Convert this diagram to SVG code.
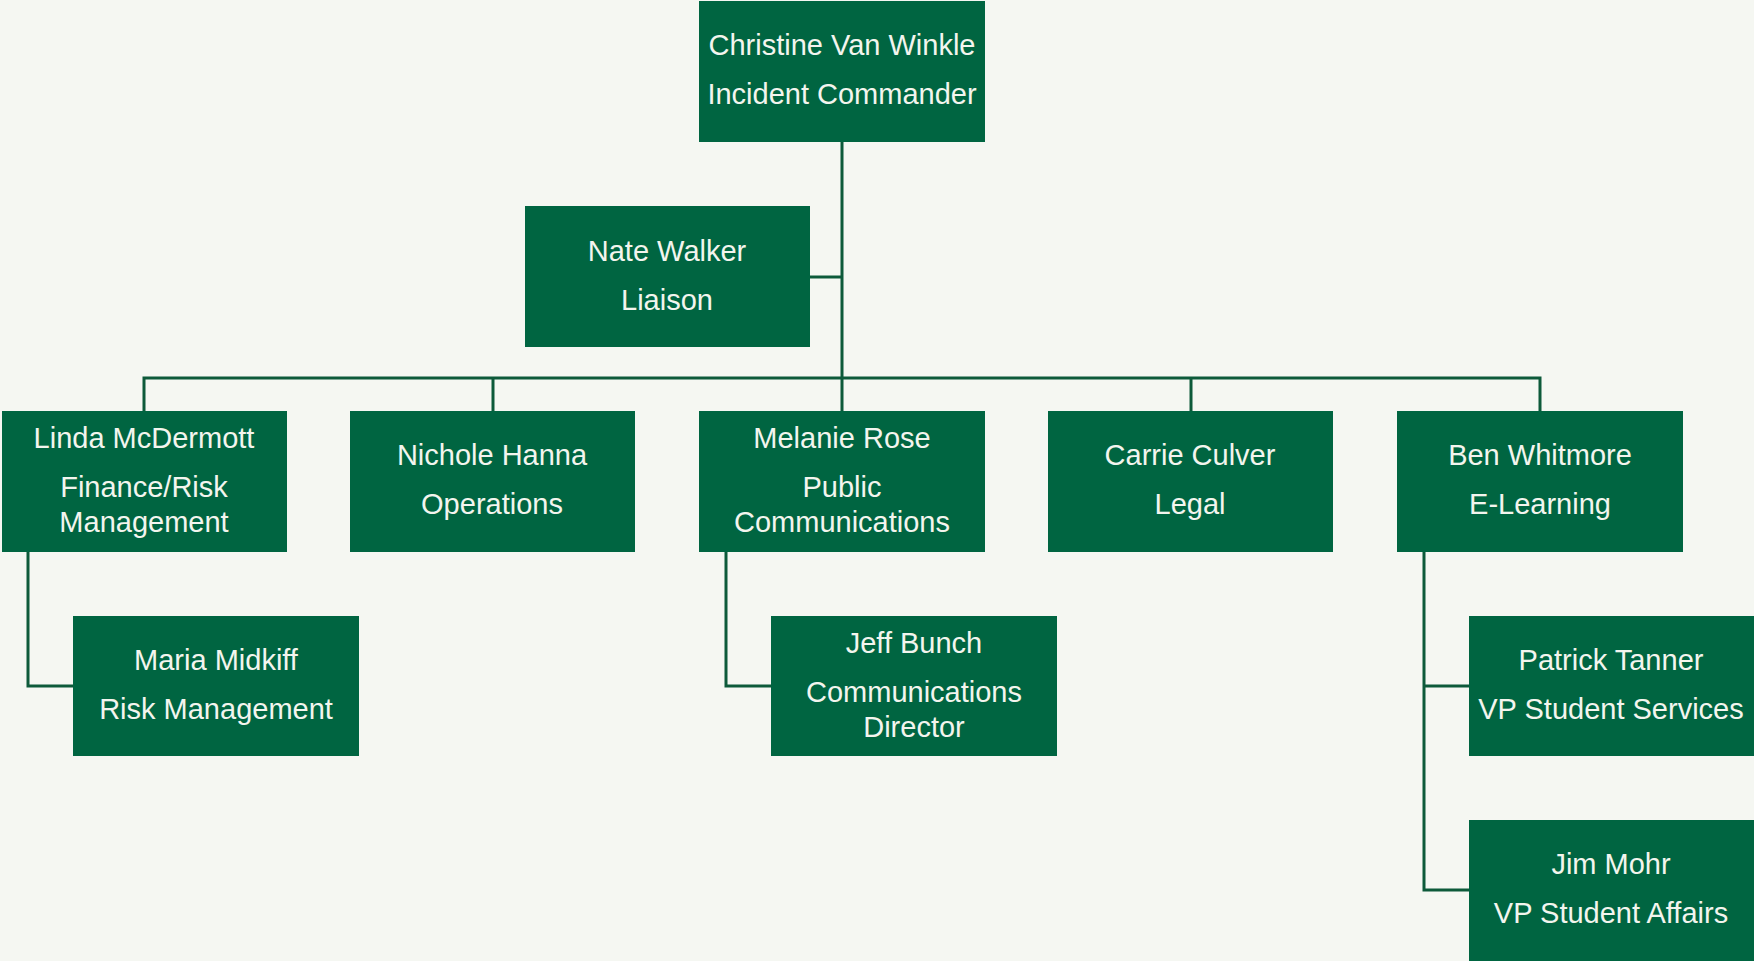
<svg xmlns="http://www.w3.org/2000/svg" width="1754" height="961" viewBox="0 0 1754 961">
<style>
.bg{fill:#F5F7F2}
.box{fill:#006541}
.t{font-family:"Liberation Sans",Arial,sans-serif;font-size:29px;fill:#F3F5EE;text-anchor:middle}
.c{fill:none;stroke:#0D5A3A;stroke-width:3}
</style>
<rect class="bg" x="0" y="0" width="1754" height="961"/>
<g id="connectors">
<path class="c" d="M842 142V411"/>
<path class="c" d="M810 277H842"/>
<path class="c" d="M144 411V378H1540V411"/>
<path class="c" d="M493 378V411"/>
<path class="c" d="M1191 378V411"/>
<path class="c" d="M28 552V686H73"/>
<path class="c" d="M726 552V686H771"/>
<path class="c" d="M1424 552V890H1469"/>
<path class="c" d="M1424 686H1469"/>
</g>
<g id="christine">
<rect class="box" x="699" y="1" width="286" height="141"/>
<text class="t" x="842" y="55">Christine Van Winkle</text>
<text class="t" x="842" y="104">Incident Commander</text>
</g>
<g id="nate">
<rect class="box" x="525" y="206" width="285" height="141"/>
<text class="t" x="667" y="261">Nate Walker</text>
<text class="t" x="667" y="310">Liaison</text>
</g>
<g id="linda">
<rect class="box" x="2" y="411" width="285" height="141"/>
<text class="t" x="144" y="448">Linda McDermott</text>
<text class="t" x="144" y="497">Finance/Risk</text>
<text class="t" x="144" y="532">Management</text>
</g>
<g id="nichole">
<rect class="box" x="350" y="411" width="285" height="141"/>
<text class="t" x="492" y="465">Nichole Hanna</text>
<text class="t" x="492" y="514">Operations</text>
</g>
<g id="melanie">
<rect class="box" x="699" y="411" width="286" height="141"/>
<text class="t" x="842" y="448">Melanie Rose</text>
<text class="t" x="842" y="497">Public</text>
<text class="t" x="842" y="532">Communications</text>
</g>
<g id="carrie">
<rect class="box" x="1048" y="411" width="285" height="141"/>
<text class="t" x="1190" y="465">Carrie Culver</text>
<text class="t" x="1190" y="514">Legal</text>
</g>
<g id="ben">
<rect class="box" x="1397" y="411" width="286" height="141"/>
<text class="t" x="1540" y="465">Ben Whitmore</text>
<text class="t" x="1540" y="514">E-Learning</text>
</g>
<g id="maria">
<rect class="box" x="73" y="616" width="286" height="140"/>
<text class="t" x="216" y="670">Maria Midkiff</text>
<text class="t" x="216" y="719">Risk Management</text>
</g>
<g id="jeff">
<rect class="box" x="771" y="616" width="286" height="140"/>
<text class="t" x="914" y="653">Jeff Bunch</text>
<text class="t" x="914" y="702">Communications</text>
<text class="t" x="914" y="737">Director</text>
</g>
<g id="patrick">
<rect class="box" x="1469" y="616" width="285" height="140"/>
<text class="t" x="1611" y="670">Patrick Tanner</text>
<text class="t" x="1611" y="719">VP Student Services</text>
</g>
<g id="jim">
<rect class="box" x="1469" y="820" width="285" height="141"/>
<text class="t" x="1611" y="874">Jim Mohr</text>
<text class="t" x="1611" y="923">VP Student Affairs</text>
</g>
</svg>
